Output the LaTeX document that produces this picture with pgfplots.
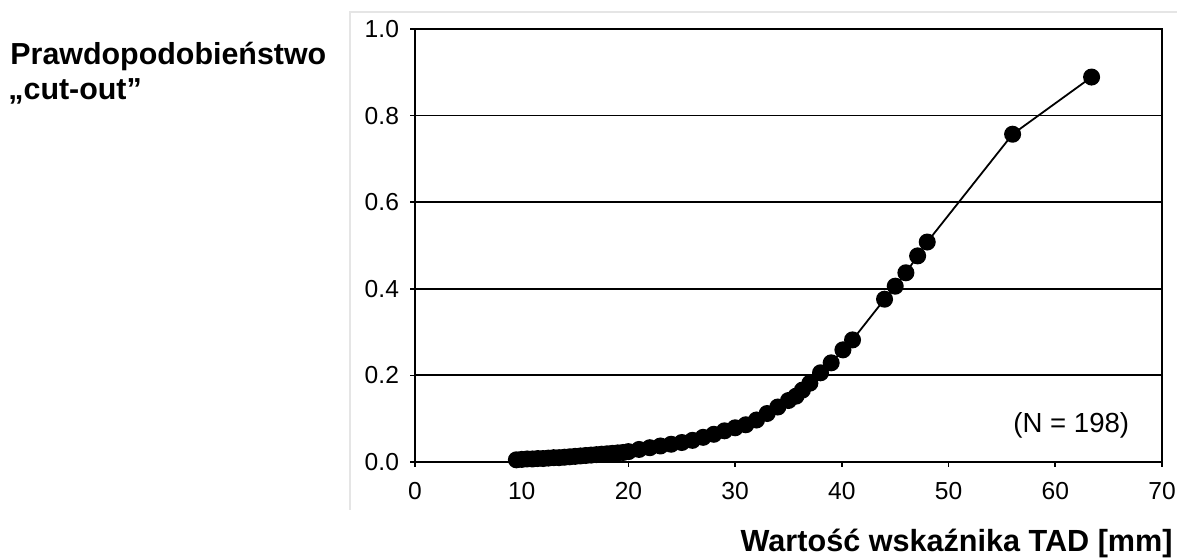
\documentclass[border=0pt]{standalone}
\usepackage{pgfplots}
\pgfplotsset{compat=1.18}
\usepackage{fontspec}
\setmainfont{Liberation Sans}
\begin{document}
\begin{tikzpicture}
\useasboundingbox (0pt,0pt) rectangle (588.5pt,-280pt);
\draw[black!10, line width=0.6pt] (175pt,-255pt) -- (175pt,-6pt) -- (590pt,-6pt);
\node[anchor=base west, inner sep=0pt, font=\fontsize{15.2}{18}\selectfont\bfseries] at (5pt,-32.5pt) {Prawdopodobieństwo};
\node[anchor=base west, inner sep=0pt, font=\fontsize{15.2}{18}\selectfont\bfseries] at (4pt,-50pt) {„cut-out”};
\node[anchor=base east, inner sep=0pt, font=\fontsize{15.3}{18}\selectfont\bfseries] at (586.5pt,-276pt) {Wartość wskaźnika TAD [mm]};
\begin{axis}[
  at={(207.5pt,-231pt)}, anchor=south west,
  scale only axis, width=373.5pt, height=216.5pt,
  xmin=0, xmax=70, ymin=0, ymax=1,
  xtick={0,10,20,30,40,50,60,70},
  ytick={0,0.2,0.4,0.6,0.8,1},
  yticklabels={0.0,0.2,0.4,0.6,0.8,1.0},
  xtick pos=left, ytick pos=left,
  tick align=outside, major tick length=2.5pt,
  tick style={black, line width=0.8pt},
  axis line style={black, line width=1pt},
  ymajorgrids, grid style={black, line width=0.9pt},
  /pgf/number format/assume math mode=true,
  ticklabel style={font=\fontsize{12.3}{14}\selectfont},
  xticklabel style={yshift=-4pt},
  yticklabel style={xshift=-2pt},
  clip=false,
]
\addplot[black, line width=0.9pt, mark=*, mark size=3.8pt] table {
9.5 0.005
10 0.006
10.5 0.007
11 0.007
11.5 0.008
12 0.008
12.5 0.009
13 0.010
13.5 0.010
14 0.011
14.5 0.012
15 0.013
15.5 0.014
16 0.015
16.5 0.016
17 0.017
17.5 0.018
18 0.019
18.5 0.020
19 0.021
19.5 0.022
20 0.024
21 0.029
22 0.033
23 0.037
24 0.041
25 0.045
26 0.050
27 0.057
28 0.064
29 0.072
30 0.079
31 0.086
32 0.097
33 0.112
34 0.127
35 0.142
35.7 0.152
36.3 0.166
37.0 0.182
38.0 0.206
39.0 0.229
40.1 0.259
41.0 0.282
44.0 0.376
45.0 0.406
46.0 0.437
47.1 0.476
48.0 0.508
56.0 0.757
63.4 0.889
};
\node[font=\fontsize{13.8}{16}\selectfont] at (axis cs:61.5,0.085) {(N = 198)};
\end{axis}
\end{tikzpicture}
\end{document}
